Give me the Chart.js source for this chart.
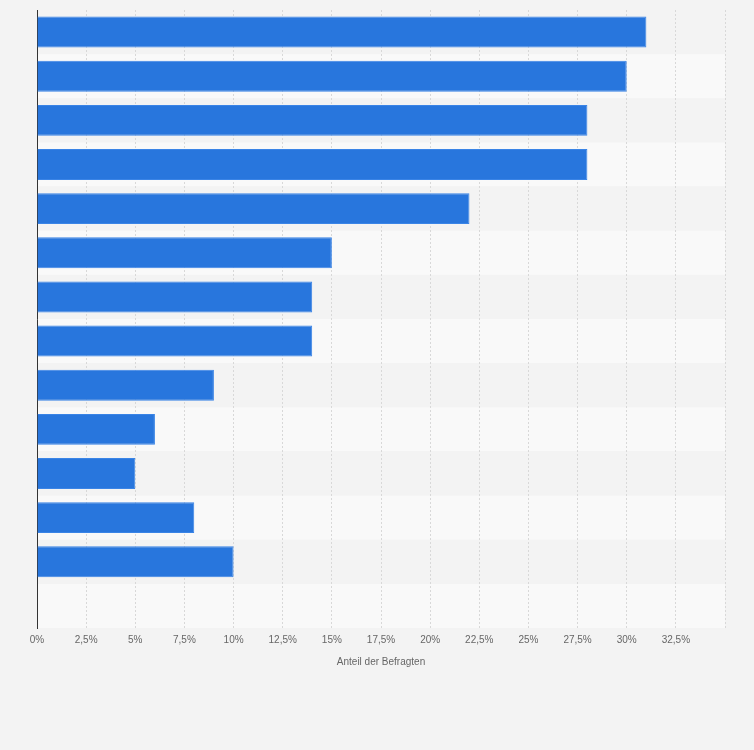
<!DOCTYPE html>
<html>
<head>
<meta charset="utf-8">
<script src="https://cdn.jsdelivr.net/npm/chart.js@4"></script>
<style>
  html, body { margin: 0; padding: 0; background: #f3f3f3; }
  #wrap { width: 754px; height: 750px; }
</style>
</head>
<body>
<div id="wrap"><canvas id="chart"></canvas></div>
<script>
// 14 rows, the last one is empty in the original
const categories = ["1", "2", "3", "4", "5", "6", "7", "8", "9", "10", "11", "12", "13", "14"];
const shares = [31, 30, 28, 28, 22, 15, 14, 14, 9, 6, 5, 8, 10, null];
const xMax = 35;
const xStep = 2.5;

// alternating row stripes behind the bars
const stripes = {
    id: "stripes",
    beforeDraw(chart) {
        const { ctx, chartArea, scales } = chart;
        const y = scales.y;
        const h = (chartArea.bottom - chartArea.top) / categories.length;
        ctx.save();
        categories.forEach((c, i) => {
            ctx.fillStyle = i % 2 === 0 ? "#f3f3f3" : "#f9f9f9";
            ctx.fillRect(chartArea.left, y.getPixelForValue(i) - h / 2, chartArea.right - chartArea.left, h);
        });
        ctx.restore();
    }
};

new Chart(document.getElementById("chart"), {
    type: "bar",
    data: {
        labels: categories,
        datasets: [{
            data: shares,
            backgroundColor: "#2876dd",
            borderColor: "#3a84e6",
            borderWidth: 1,
            categoryPercentage: 1,
            barPercentage: 0.7
        }]
    },
    options: {
        indexAxis: "y",
        responsive: true,
        maintainAspectRatio: false,
        animation: false,
        layout: { padding: { left: 29, right: 29, top: 10, bottom: 78 } },
        plugins: { legend: { display: false }, tooltip: { enabled: false } },
        scales: {
            x: {
                min: 0,
                max: xMax,
                ticks: {
                    stepSize: xStep,
                    color: "#666",
                    font: { family: "Arial, Liberation Sans", size: 10 },
                    maxRotation: 0,
                    autoSkip: false,
                    padding: 6,
                    callback: v => v >= xMax ? "" : String(v).replace(".", ",") + "%"
                },
                grid: { color: "#d8d8d8", borderDash: [2, 2], drawTicks: false },
                border: { display: false, dash: [2, 2] },
                title: {
                    display: true,
                    text: "Anteil der Befragten",
                    color: "#666",
                    font: { family: "Arial, Liberation Sans", size: 10 },
                    padding: { top: 4 }
                }
            },
            y: {
                ticks: { display: false },
                grid: { display: false },
                border: { display: true, color: "#333", width: 1 }
            }
        }
    },
    plugins: [stripes]
});
</script>
</body>
</html>
